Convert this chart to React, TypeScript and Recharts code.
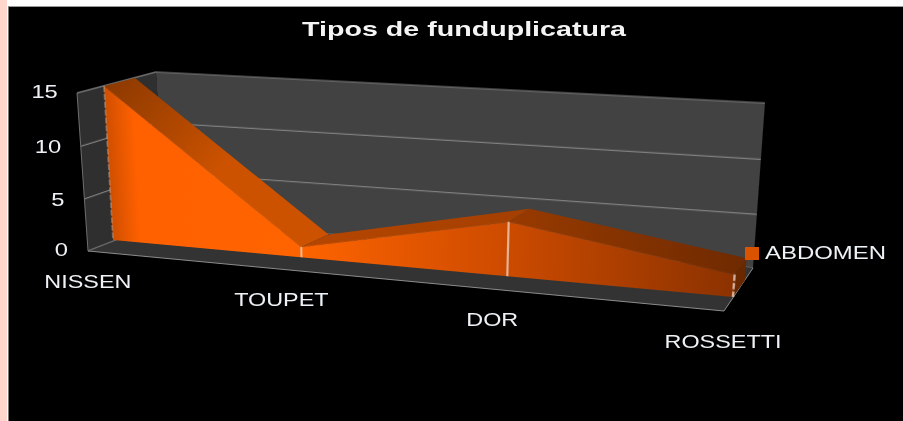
import React from "react";
import { Area, AreaChart, CartesianGrid, Legend, Line, LineChart, XAxis, YAxis } from "recharts";

const categories = ["NISSEN", "TOUPET", "DOR", "ROSSETTI"];
const abdomen = [15, 1, 5, 2];
const yTicks = [0, 5, 10, 15];
const seriesName = "ABDOMEN";

const data = categories.map((name, i) => ({ name, [seriesName]: abdomen[i] }));

type Pt = [number, number];
type Quad = [Pt, Pt, Pt, Pt]; // top-left, top-right, bottom-right, bottom-left

// faces of the 3D box, in page pixels
const backWall: Quad = [[156, 72], [765, 103], [753, 268], [165, 221]];
const leftWall: Quad = [[156, 72], [77, 93], [88, 251], [165, 221]];
const floor: Quad = [[165, 221], [753, 268], [724, 311], [88, 251]];
const frontEdge: Quad = [[77, 93], [735, 132], [724, 311], [88, 251]];
const seriesFront: Quad = [[104, 86], [746, 122], [733, 297], [113, 240]];
const seriesBack: Quad = [[135, 78], [757, 111], [745, 280], [144, 229]];

const FACE_W = 600;
const FACE_H = 160;
const PAD = 3;

const homography = (q: Quad) => {
  const [[x0, y0], [x1, y1], [x2, y2], [x3, y3]] = q;
  const sx = x0 - x1 + x2 - x3;
  const sy = y0 - y1 + y2 - y3;
  const dx1 = x1 - x2;
  const dx2 = x3 - x2;
  const dy1 = y1 - y2;
  const dy2 = y3 - y2;
  const den = dx1 * dy2 - dx2 * dy1;
  const g = (sx * dy2 - dx2 * sy) / den;
  const h = (dx1 * sy - sx * dy1) / den;
  return { a: x1 - x0 + g * x1, b: x3 - x0 + h * x3, c: x0, d: y1 - y0 + g * y1, e: y3 - y0 + h * y3, f: y0, g, h };
};

const project = (q: Quad, u: number, v: number): Pt => {
  const m = homography(q);
  const w = m.g * u + m.h * v + 1;
  return [(m.a * u + m.b * v + m.c) / w, (m.d * u + m.e * v + m.f) / w];
};

const faceTransform = (q: Quad) => {
  const m = homography(q);
  const v = [
    m.a / FACE_W, m.d / FACE_W, 0, m.g / FACE_W,
    m.b / FACE_H, m.e / FACE_H, 0, m.h / FACE_H,
    0, 0, 1, 0,
    m.c, m.f, 0, 1,
  ];
  return `matrix3d(${v.join(",")})`;
};

const Face = ({ quad, bg, children }: { quad: Quad; bg?: string; children?: React.ReactNode }) => (
  <div
    style={{
      position: "absolute",
      left: 0,
      top: 0,
      width: FACE_W,
      height: FACE_H,
      background: bg,
      transform: faceTransform(quad),
      transformOrigin: "0 0",
    }}
  >
    <div style={{ position: "absolute", left: -PAD, top: -PAD }}>{children}</div>
  </div>
);

const Wall = ({ quad, bg }: { quad: Quad; bg: string }) => (
  <Face quad={quad} bg={bg}>
    <AreaChart
      width={FACE_W + PAD * 2}
      height={FACE_H + PAD * 2}
      data={data}
      margin={{ top: PAD, right: PAD, bottom: PAD, left: PAD }}
    >
      <CartesianGrid stroke="#808080" strokeWidth={1.1} vertical={false} />
      <XAxis dataKey="name" hide />
      <YAxis hide domain={[0, 15]} ticks={yTicks} />
      <Area dataKey={seriesName} fill="none" stroke="none" isAnimationActive={false} legendType="none" />
    </AreaChart>
  </Face>
);

// drop lines on the front of the area
const DropLine = (props: any) => {
  const { cx, cy, index } = props;
  return (
    <line
      key={index}
      x1={cx}
      x2={cx}
      y1={cy}
      y2={FACE_H + PAD}
      stroke={index === 0 ? "#b8a090" : "#eed8ca"}
      strokeWidth={index === 0 ? 1 : 1.5}
      strokeDasharray={index === 0 || index === 3 ? "6 2" : undefined}
    />
  );
};

const bandFills = ["url(#band1)", "url(#band2)", "url(#band3)"];
let prevBandPoint: Pt | null = null;

// top surface of the area: each segment runs from the front plane to the back plane
const BandSegment = (props: any) => {
  const { cx, cy, index } = props;
  const cur: Pt = [cx / 903, cy / 421];
  const prev = index === 0 ? null : prevBandPoint;
  prevBandPoint = cur;
  const f = project(seriesFront, cur[0], cur[1]);
  const b = project(seriesBack, cur[0], cur[1]);
  const parts: React.ReactNode[] = [];
  if (prev) {
    const pf = project(seriesFront, prev[0], prev[1]);
    const pb = project(seriesBack, prev[0], prev[1]);
    parts.push(<polygon key="s" points={[pf, pb, b, f].join(" ")} fill={bandFills[index - 1]} />);
  }
  if (index === categories.length - 1) {
    const ff = project(seriesFront, cur[0], 1);
    const fb = project(seriesBack, cur[0], 1);
    parts.push(<polygon key="c" points={[f, b, fb, ff].join(" ")} fill="#6a2800" />);
  }
  return <g key={index}>{parts}</g>;
};

const XTick = (props: any) => {
  const { x, payload } = props;
  const [px, py] = project(frontEdge, (x - 88) / 636, 1);
  return (
    <text
      transform={`translate(${px - 1},${py + 37}) scale(1.3,1)`}
      textAnchor="middle"
      fontFamily="Liberation Sans"
      fontSize={18}
      fill="#eef2f6"
    >
      {payload.value}
    </text>
  );
};

const YTick = (props: any) => {
  const { y, payload } = props;
  // the printed ticks sit slightly lower mid-axis because of the perspective
  const sag = (250 - y) * (y - 91) * 0.0004;
  return (
    <text
      transform={`translate(${68 - (250 - y) * 0.064},${y + 7 + sag}) scale(1.25,1)`}
      textAnchor="end"
      fontFamily="Liberation Sans"
      fontSize={19}
      fill="#eef2f6"
    >
      {payload.value}
    </text>
  );
};

const LegendContent = (props: any) => (
  <div style={{ display: "flex", alignItems: "center", height: 20 }}>
    {(props.payload || []).map((item: any) => (
      <React.Fragment key={item.value}>
        <span style={{ width: 14, height: 13, background: "#d95300", marginRight: 6 }} />
        <span
          style={{
            fontFamily: "Liberation Sans",
            fontSize: 18,
            color: "#eef2f6",
            transform: "scaleX(1.33)",
            transformOrigin: "0 50%",
          }}
        >
          {item.value}
        </span>
      </React.Fragment>
    ))}
  </div>
);

export default function App() {
  return (
    <div style={{ position: "fixed", left: 0, top: 0, width: 903, height: 421, background: "#fff", overflow: "hidden" }}>
      <div style={{ position: "absolute", left: 0, top: 0, width: 7, height: 421, background: "#ffd6cc" }} />
      <div style={{ position: "absolute", left: 8, top: 6, width: 895, height: 415, background: "#000", borderLeft: "1px solid #777", borderTop: "1px solid #999" }} />

      {/* the source picture is a soft upscaled screenshot */}
      <div style={{ position: "absolute", left: 0, top: 0, width: 903, height: 421, filter: "blur(0.5px)" }}>
        <Wall quad={backWall} bg="#424242" />
        <Wall quad={leftWall} bg="#2f2f2f" />
        <Face quad={floor} bg="#333333" />
        <svg width={903} height={421} style={{ position: "absolute", left: 0, top: 0 }}>
          <polyline points={[floor[3], floor[2], floor[1]].join(" ")} fill="none" stroke="#8c8c8c" strokeWidth={1} />
          <polyline points={[leftWall[3], leftWall[2], leftWall[1], leftWall[0]].join(" ")} fill="none" stroke="#6e6e6e" strokeWidth={1} />
        </svg>

        <div style={{ position: "absolute", left: 0, top: 0 }}>
          <LineChart width={903} height={421} data={data} margin={{ top: 0, right: 0, bottom: 0, left: 0 }}>
            <defs>
              <linearGradient id="band1" gradientUnits="userSpaceOnUse" x1={115} y1={80} x2={220} y2={170}>
                <stop offset="0" stopColor="#8e3a00" />
                <stop offset="1" stopColor="#cc5200" />
              </linearGradient>
              <linearGradient id="band2" gradientUnits="userSpaceOnUse" x1={305} y1={0} x2={530} y2={0}>
                <stop offset="0" stopColor="#b54600" />
                <stop offset="1" stopColor="#a33f00" />
              </linearGradient>
              <linearGradient id="band3" gradientUnits="userSpaceOnUse" x1={510} y1={0} x2={746} y2={0}>
                <stop offset="0" stopColor="#983a00" />
                <stop offset="1" stopColor="#6f2a00" />
              </linearGradient>
            </defs>
            <XAxis dataKey="name" hide />
            <YAxis hide domain={[0, 15]} />
            <Line dataKey={seriesName} stroke="none" dot={BandSegment} activeDot={false} isAnimationActive={false} legendType="none" />
          </LineChart>
        </div>

        <Face quad={seriesFront}>
          <AreaChart
            width={FACE_W + PAD * 2}
            height={FACE_H + PAD * 2}
            data={data}
            margin={{ top: PAD, right: PAD, bottom: PAD, left: PAD }}
          >
            <defs>
              <linearGradient id="frontFill" x1="0" y1="0" x2="1" y2="0">
                <stop offset="0" stopColor="#cf4f00" />
                <stop offset="0.05" stopColor="#ff6000" />
                <stop offset="0.33" stopColor="#ff6400" />
                <stop offset="0.65" stopColor="#cf4c00" />
                <stop offset="1" stopColor="#8c3200" />
              </linearGradient>
            </defs>
            <XAxis dataKey="name" hide />
            <YAxis hide domain={[0, 15]} />
            <Area
              dataKey={seriesName}
              fill="url(#frontFill)"
              fillOpacity={1}
              stroke="none"
              dot={DropLine}
              activeDot={false}
              isAnimationActive={false}
              legendType="none"
            />
          </AreaChart>
        </Face>

        <div style={{ position: "absolute", left: 0, top: 0 }}>
          <AreaChart width={903} height={421} data={data} margin={{ top: 91, right: 179, bottom: 171, left: 88 }}>
            <text x={464} y={36} textAnchor="middle" fontFamily="Liberation Sans" fontWeight="bold" fontSize={21} fill="#f4f4f4" textLength={324} lengthAdjust="spacingAndGlyphs">
              Tipos de funduplicatura
            </text>
            <XAxis dataKey="name" height={1} axisLine={false} tickLine={false} tick={XTick} interval={0} />
            <YAxis width={1} domain={[0, 15]} ticks={yTicks} axisLine={false} tickLine={false} tick={YTick} />
            <Area dataKey={seriesName} name={seriesName} fill="none" stroke="none" isAnimationActive={false} />
            <Legend
              layout="vertical"
              align="center"
              verticalAlign="middle"
              content={LegendContent}
              wrapperStyle={{ left: 745, top: 243, width: 150 }}
            />
          </AreaChart>
        </div>
      </div>
    </div>
  );
}
